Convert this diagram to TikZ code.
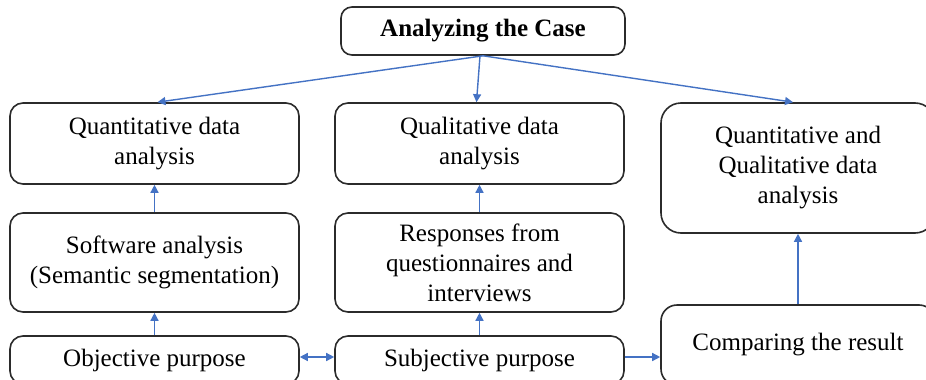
\documentclass[tikz,border=0pt]{standalone}
\usepackage{fontspec}
\setmainfont{Liberation Serif}
\usetikzlibrary{arrows.meta}
\definecolor{linkblue}{HTML}{4472C4}
\definecolor{boxline}{HTML}{2B2B2B}
\tikzset{
  stage/.style={draw=boxline, line width=1.6pt, rounded corners=13pt,
    align=center, inner sep=0pt, font=\fontsize{25}{30}\selectfont},
  link/.style={draw=linkblue, line width=1.4pt,
    -{Triangle[length=8pt,width=8pt]}},
  duallink/.style={draw=linkblue, line width=1.4pt,
    {Triangle[length=8pt,width=8pt]}-{Triangle[length=8pt,width=8pt]}}
}
\begin{document}
\begin{tikzpicture}[x=1pt, y=-1pt]
\useasboundingbox (0,0) rectangle (926,380);
\clip (0,0) rectangle (926,380);
\fill[white] (0,0) rectangle (926,380);

% header
\node[stage, minimum width=284pt, minimum height=48pt, rounded corners=11pt] (case) at (483,31)
  {\textbf{Analyzing the Case}};

% upper row
\node[stage, minimum width=289pt, minimum height=81pt] (quant) at (154.5,143.5)
  {Quantitative data\\analysis};
\node[stage, minimum width=289pt, minimum height=81pt] (qual) at (479.5,143.5)
  {Qualitative data\\analysis};
\node[stage, minimum width=274pt, minimum height=130pt, rounded corners=20pt] (mixed) at (798,168)
  {Quantitative and\\Qualitative data\\analysis};

% middle row
\node[stage, minimum width=289pt, minimum height=99pt] (soft) at (154.5,262.5)
  {Software analysis\\(Semantic segmentation)};
\node[stage, minimum width=289pt, minimum height=99pt] (resp) at (479.5,262.5)
  {Responses from\\questionnaires and\\interviews};

% bottom row
\node[stage, minimum width=289pt, minimum height=48pt] (obj) at (154.5,360)
  {Objective purpose};
\node[stage, minimum width=289pt, minimum height=48pt] (subj) at (479.5,360)
  {Subjective purpose};
\node[stage, minimum width=274pt, minimum height=80pt, rounded corners=16pt] (comp) at (798,345)
  {Comparing the result};

% connectors
\coordinate (fork) at (case.south);
\draw[link] (fork) -- ([xshift=3pt]quant.north);
\draw[link] ([xshift=-3pt]fork) -- ([xshift=-3pt]qual.north);
\draw[link] (fork) -- ([xshift=-5pt]mixed.north);

\draw[link] (soft.north) -- (quant.south);
\draw[link] (obj.north) -- (soft.south);
\draw[link] (resp.north) -- (qual.south);
\draw[link] (subj.north) -- (resp.south);
\draw[link] (comp.north) -- (mixed.south);

\coordinate (midline) at ([yshift=3pt]subj.east);
\draw[duallink] ([yshift=3pt]obj.east) -- ([yshift=3pt]subj.west);
\draw[link] (midline) -- (midline -| comp.west);
\end{tikzpicture}
\end{document}
